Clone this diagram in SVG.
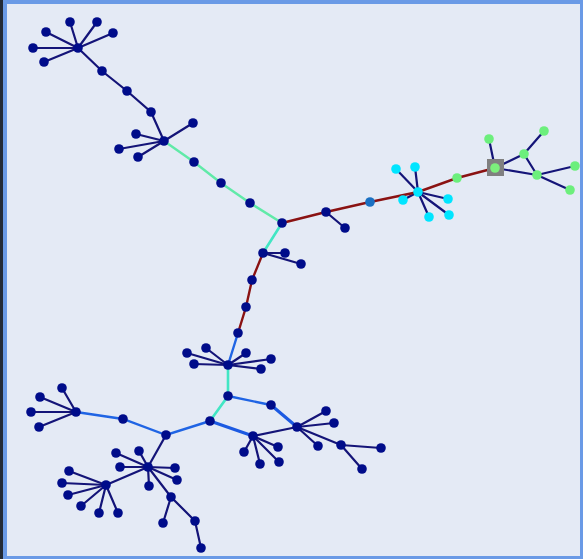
<svg xmlns="http://www.w3.org/2000/svg" width="583" height="559" viewBox="0 0 583 559">
<style>
.n{fill:#000c8a}
.c{fill:#00e5ff}
.g{fill:#6cef7c}
circle{r:4.8px}
.e{stroke:#141478;stroke-width:2.2;fill:none;stroke-linecap:round}
.gr{stroke:#60eaa8;stroke-width:2.4}
.tq{stroke:#42e6c4;stroke-width:2.6}
.rd{stroke:#8a1212;stroke-width:2.4}
.bl{stroke:#1f64e4;stroke-width:2.4}
.bt{stroke:#1c5ae2;stroke-width:3.2}
</style>
<rect x="0" y="0" width="583" height="559" fill="#6a9ae6"/>
<rect x="0" y="0" width="3" height="559" fill="#232a36"/>
<rect x="7" y="4" width="573" height="552" fill="#e4eaf5"/>
<g id="edges">
<g class="e">
<line x1="78" y1="48" x2="70" y2="22"/><line x1="78" y1="48" x2="97" y2="22"/><line x1="78" y1="48" x2="46" y2="32"/><line x1="78" y1="48" x2="113" y2="33"/><line x1="78" y1="48" x2="33" y2="48"/><line x1="78" y1="48" x2="44" y2="62"/>
<polyline points="78,48 102,71 127,91 151,112 164,141"/>
<line x1="164" y1="141" x2="193" y2="123"/><line x1="164" y1="141" x2="136" y2="134"/><line x1="164" y1="141" x2="119" y2="149"/><line x1="164" y1="141" x2="138" y2="157"/>
<line x1="326" y1="212" x2="345" y2="228"/>
<line x1="263" y1="253" x2="285" y2="253"/><line x1="263" y1="253" x2="301" y2="264"/>
<line x1="418" y1="192" x2="396" y2="169"/><line x1="418" y1="192" x2="415" y2="167"/><line x1="418" y1="192" x2="403" y2="200"/><line x1="418" y1="192" x2="429" y2="217"/><line x1="418" y1="192" x2="448" y2="199"/><line x1="418" y1="192" x2="449" y2="215"/>
<line x1="495" y1="168" x2="489" y2="139"/><line x1="495" y1="168" x2="524" y2="154"/><line x1="495" y1="168" x2="537" y2="175"/><line x1="524" y1="154" x2="544" y2="131"/><line x1="524" y1="154" x2="537" y2="175"/><line x1="537" y1="175" x2="575" y2="166"/><line x1="537" y1="175" x2="570" y2="190"/>
<line x1="228" y1="365" x2="187" y2="353"/><line x1="228" y1="365" x2="206" y2="348"/><line x1="228" y1="365" x2="246" y2="353"/><line x1="228" y1="365" x2="194" y2="364"/><line x1="228" y1="365" x2="271" y2="359"/><line x1="228" y1="365" x2="261" y2="369"/>
<line x1="253" y1="436" x2="297" y2="427"/>
<line x1="297" y1="427" x2="326" y2="411"/><line x1="297" y1="427" x2="334" y2="423"/><line x1="297" y1="427" x2="318" y2="446"/><line x1="297" y1="427" x2="341" y2="445"/><line x1="341" y1="445" x2="381" y2="448"/><line x1="341" y1="445" x2="362" y2="469"/>
<line x1="253" y1="436" x2="244" y2="452"/><line x1="253" y1="436" x2="278" y2="447"/><line x1="253" y1="436" x2="260" y2="464"/><line x1="253" y1="436" x2="279" y2="462"/>
<line x1="76" y1="412" x2="62" y2="388"/><line x1="76" y1="412" x2="40" y2="397"/><line x1="76" y1="412" x2="31" y2="412"/><line x1="76" y1="412" x2="39" y2="427"/>
<line x1="166" y1="435" x2="148" y2="467"/>
<line x1="148" y1="467" x2="116" y2="453"/><line x1="148" y1="467" x2="139" y2="451"/><line x1="148" y1="467" x2="120" y2="467"/><line x1="148" y1="467" x2="175" y2="468"/><line x1="148" y1="467" x2="177" y2="480"/><line x1="148" y1="467" x2="149" y2="486"/>
<line x1="148" y1="467" x2="106" y2="485"/>
<line x1="106" y1="485" x2="69" y2="471"/><line x1="106" y1="485" x2="62" y2="483"/><line x1="106" y1="485" x2="68" y2="495"/><line x1="106" y1="485" x2="81" y2="506"/><line x1="106" y1="485" x2="99" y2="513"/><line x1="106" y1="485" x2="118" y2="513"/>
<polyline points="148,467 171,497 195,521 201,548"/>
<line x1="171" y1="497" x2="163" y2="523"/>
</g>
<g fill="none" stroke-linecap="round">
<polyline class="gr" points="164,141 194,162 221,183 250,203 282,223"/>
<line class="tq" x1="282" y1="223" x2="263" y2="253"/>
<polyline class="rd" points="282,223 326,212 370,202 418,192 457,178 495,168"/>
<polyline class="rd" points="263,253 252,280 246,307 238,333"/>
<line class="bl" x1="238" y1="333" x2="228" y2="365"/>
<polyline class="tq" points="228,365 228,396 210,421"/>
<line class="bl" x1="228" y1="396" x2="271" y2="405"/>
<line class="bt" x1="271" y1="405" x2="297" y2="427"/>
<line class="bt" x1="210" y1="421" x2="253" y2="436"/>
<polyline class="bl" points="76,412 123,419 166,435 210,421"/>
</g>
</g>
<g id="nodes">
<g id="n-a" class="n"><circle cx="78" cy="48" r="4.8"/><circle cx="70" cy="22" r="4.8"/><circle cx="97" cy="22" r="4.8"/><circle cx="46" cy="32" r="4.8"/><circle cx="113" cy="33" r="4.8"/><circle cx="33" cy="48" r="4.8"/><circle cx="44" cy="62" r="4.8"/><circle cx="102" cy="71" r="4.8"/><circle cx="127" cy="91" r="4.8"/><circle cx="151" cy="112" r="4.8"/></g>
<g id="n-b" class="n"><circle cx="164" cy="141" r="4.8"/><circle cx="193" cy="123" r="4.8"/><circle cx="136" cy="134" r="4.8"/><circle cx="119" cy="149" r="4.8"/><circle cx="138" cy="157" r="4.8"/><circle cx="194" cy="162" r="4.8"/><circle cx="221" cy="183" r="4.8"/><circle cx="250" cy="203" r="4.8"/></g>
<g id="n-c" class="n"><circle cx="282" cy="223" r="4.8"/><circle cx="326" cy="212" r="4.8"/><circle cx="345" cy="228" r="4.8"/><circle cx="263" cy="253" r="4.8"/><circle cx="285" cy="253" r="4.8"/><circle cx="301" cy="264" r="4.8"/><circle cx="252" cy="280" r="4.8"/><circle cx="246" cy="307" r="4.8"/><circle cx="238" cy="333" r="4.8"/></g>
<g id="n-lb"><circle cx="370" cy="202" r="4.8" fill="#1a70c2"/></g>
<g id="n-cy" class="c"><circle cx="418" cy="192" r="4.8"/><circle cx="396" cy="169" r="4.8"/><circle cx="415" cy="167" r="4.8"/><circle cx="403" cy="200" r="4.8"/><circle cx="429" cy="217" r="4.8"/><circle cx="448" cy="199" r="4.8"/><circle cx="449" cy="215" r="4.8"/></g>
<g id="n-root"><rect x="487" y="159" width="17" height="17" fill="#808080"/></g>
<g id="n-gr" class="g"><circle cx="457" cy="178" r="4.8"/><circle cx="495" cy="168" r="4.8" fill="#7cf07c"/><circle cx="489" cy="139" r="4.8"/><circle cx="524" cy="154" r="4.8"/><circle cx="544" cy="131" r="4.8"/><circle cx="537" cy="175" r="4.8"/><circle cx="575" cy="166" r="4.8"/><circle cx="570" cy="190" r="4.8"/></g>
<g id="n-d" class="n"><circle cx="228" cy="365" r="4.8"/><circle cx="187" cy="353" r="4.8"/><circle cx="206" cy="348" r="4.8"/><circle cx="246" cy="353" r="4.8"/><circle cx="194" cy="364" r="4.8"/><circle cx="271" cy="359" r="4.8"/><circle cx="261" cy="369" r="4.8"/><circle cx="228" cy="396" r="4.8"/><circle cx="271" cy="405" r="4.8"/><circle cx="210" cy="421" r="4.8"/></g>
<g id="n-e" class="n"><circle cx="297" cy="427" r="4.8"/><circle cx="326" cy="411" r="4.8"/><circle cx="334" cy="423" r="4.8"/><circle cx="318" cy="446" r="4.8"/><circle cx="341" cy="445" r="4.8"/><circle cx="381" cy="448" r="4.8"/><circle cx="362" cy="469" r="4.8"/></g>
<g id="n-f" class="n"><circle cx="253" cy="436" r="4.8"/><circle cx="244" cy="452" r="4.8"/><circle cx="278" cy="447" r="4.8"/><circle cx="260" cy="464" r="4.8"/><circle cx="279" cy="462" r="4.8"/></g>
<g id="n-g" class="n"><circle cx="76" cy="412" r="4.8"/><circle cx="62" cy="388" r="4.8"/><circle cx="40" cy="397" r="4.8"/><circle cx="31" cy="412" r="4.8"/><circle cx="39" cy="427" r="4.8"/><circle cx="123" cy="419" r="4.8"/><circle cx="166" cy="435" r="4.8"/></g>
<g id="n-h" class="n"><circle cx="148" cy="467" r="4.8"/><circle cx="116" cy="453" r="4.8"/><circle cx="139" cy="451" r="4.8"/><circle cx="120" cy="467" r="4.8"/><circle cx="175" cy="468" r="4.8"/><circle cx="177" cy="480" r="4.8"/><circle cx="149" cy="486" r="4.8"/><circle cx="171" cy="497" r="4.8"/><circle cx="163" cy="523" r="4.8"/><circle cx="195" cy="521" r="4.8"/><circle cx="201" cy="548" r="4.8"/></g>
<g id="n-i" class="n"><circle cx="106" cy="485" r="4.8"/><circle cx="69" cy="471" r="4.8"/><circle cx="62" cy="483" r="4.8"/><circle cx="68" cy="495" r="4.8"/><circle cx="81" cy="506" r="4.8"/><circle cx="99" cy="513" r="4.8"/><circle cx="118" cy="513" r="4.8"/></g>
</g>
</svg>
